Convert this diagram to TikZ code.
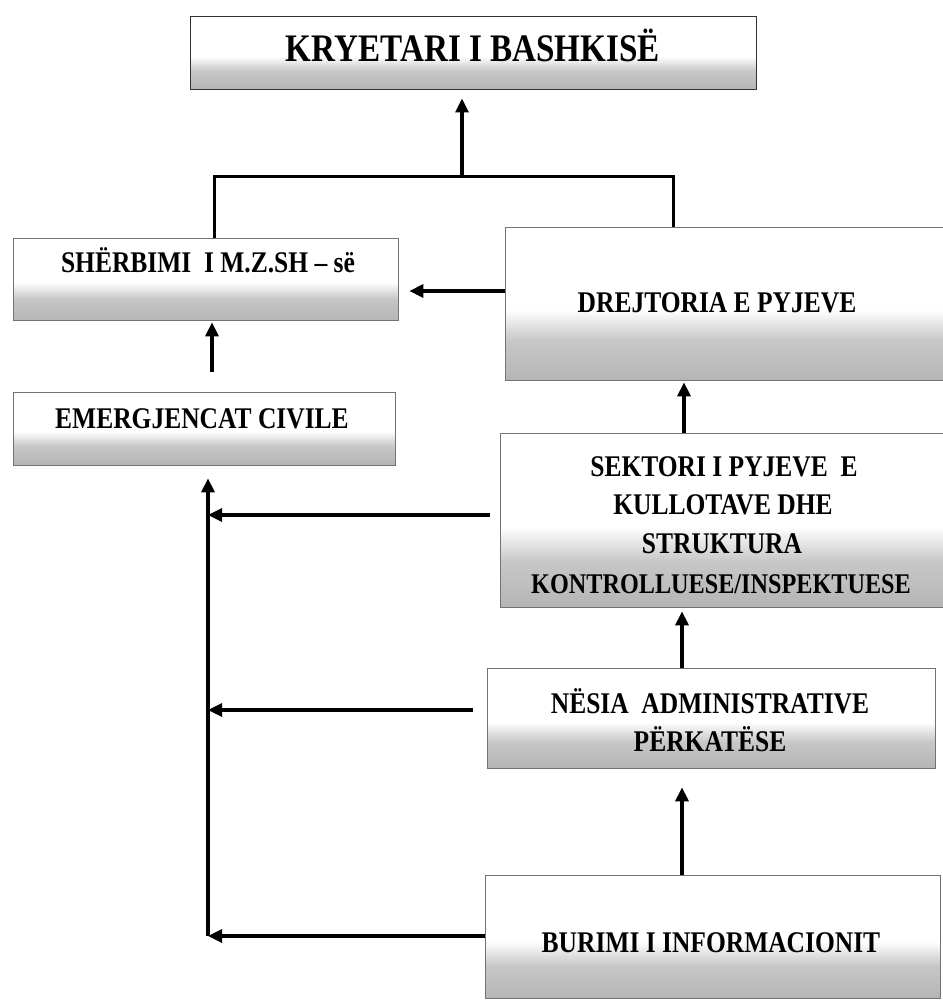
\documentclass[tikz,border=0pt]{standalone}
\usepackage{fontspec}
\setmainfont{Liberation Serif}[FakeStretch=0.85]
\usetikzlibrary{arrows.meta}
\pgfdeclareverticalshading{boxshade}{100bp}{color(0bp)=(black!48); color(12bp)=(black!36); color(38bp)=(black!22); color(48bp)=(white); color(100bp)=(white)}
\tikzset{
  box/.style={rectangle, draw=black!55, line width=0.7pt, shading=boxshade, inner sep=0pt},
  topbox/.style={box, draw=black!80, line width=1pt},
  txt/.style={font=\bfseries\fontsize{30}{36}\selectfont, anchor=base, inner sep=0pt},
  bigtxt/.style={txt, font=\bfseries\fontsize{39}{44}\selectfont},
  smalltxt/.style={txt, font=\bfseries\fontsize{28.5}{34}\selectfont},
  arr/.style={line width=3.2pt, -{Triangle[length=14pt,width=13pt]}},
  conn/.style={line width=3pt},
}
\begin{document}
\begin{tikzpicture}[x=1pt,y=-1pt]
\useasboundingbox (0,0) rectangle (942,1006);

% boxes
\node[topbox, minimum width=566pt, minimum height=73pt] (top) at (473,53.5) {};
\node[box, minimum width=385pt, minimum height=82pt] (sh) at (205.5,279) {};
\node[box, minimum width=382pt, minimum height=73pt] (em) at (204,428.5) {};
\node[box, minimum width=445pt, minimum height=153pt] (dr) at (727.5,303.5) {};
\node[box, minimum width=450pt, minimum height=174pt] (sek) at (725,520) {};
\node[box, minimum width=448pt, minimum height=100pt] (nes) at (711,718) {};
\node[box, minimum width=455pt, minimum height=123pt] (bur) at (712.5,936.5) {};

% texts
\node[bigtxt] (topT) at (473,62) {KRYETARI I BASHKISË};
\node[txt] (shT) at (208,272) {SHËRBIMI \ I M.Z.SH – së};
\node[txt] (emT) at (202,428) {EMERGJENCAT CIVILE};
\node[txt] (drT) at (717,312) {DREJTORIA E PYJEVE};
\node[txt] (sekT1) at (724,476) {SEKTORI I PYJEVE \ E};
\node[txt] (sekT2) at (723,514) {KULLOTAVE DHE};
\node[txt] (sekT3) at (722,553) {STRUKTURA};
\node[smalltxt] (sekT4) at (721,593) {KONTROLLUESE/INSPEKTUESE};
\node[txt] (nesT1) at (710,713) {NËSIA \ ADMINISTRATIVE};
\node[txt] (nesT2) at (710,751) {PËRKATËSE};
\node[txt] (burT) at (711,952) {BURIMI I INFORMACIONIT};

% coordinates
\coordinate (jL) at (214,176);
\coordinate (jR) at (673,176);
\coordinate (jM) at (462,176);
\coordinate (r1) at (0,291);
\coordinate (c1) at (212,0);
\coordinate (c2) at (684,0);
\coordinate (c3) at (682,0);
\coordinate (cb) at (208,936);
\coordinate (h1) at (0,515);
\coordinate (h2) at (0,710);

% connectors
\draw[conn] (sh.north -| jL) -- (jL) -- (jR) -- (dr.north -| jR);
\draw[arr, shorten >=8pt] (jM) -- (top.south -| jM);
\draw[arr, shorten >=11pt] (dr.west |- r1) -- (sh.east |- r1);
\draw[arr, shorten <=20pt, shorten >=2pt] (em.north -| c1) -- (sh.south -| c1);
\draw[arr, shorten >=2pt] (sek.north -| c2) -- (dr.south -| c2);
\draw[arr, shorten >=4pt] (nes.north -| c3) -- (sek.south -| c3);
\draw[arr, shorten >=19pt] (bur.north -| c3) -- (nes.south -| c3);
\draw[arr, shorten >=13pt] (cb) -- (em.south -| cb);
\draw[arr, shorten <=10pt] (sek.west |- h1) -- (cb |- h1);
\draw[arr, shorten <=14pt] (nes.west |- h2) -- (cb |- h2);
\draw[arr] (bur.west |- cb) -- (cb);
\end{tikzpicture}
\end{document}
